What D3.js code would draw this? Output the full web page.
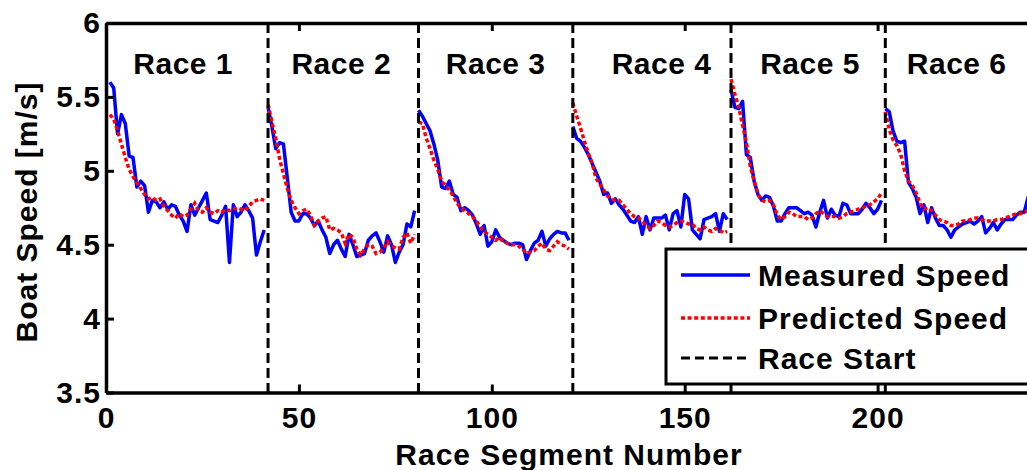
<!DOCTYPE html>
<html>
<head>
<meta charset="utf-8">
<script src="https://cdn.jsdelivr.net/npm/d3@7"></script>
<style>
  html, body { margin: 0; padding: 0; background: #fff; }
  svg { display: block; }
  text { font-family: "Liberation Sans", Arial, Helvetica, sans-serif; font-weight: bold; fill: #000; letter-spacing: 1px; }
  text.race { letter-spacing: 0.5px; }
</style>
</head>
<body>
<svg id="chart" width="1027" height="470"></svg>
<script>
// Segment index where each race begins
const raceStarts = [1, 42, 81, 121, 162, 202];
const raceNames = ["Race 1", "Race 2", "Race 3", "Race 4", "Race 5", "Race 6"];
const raceLabelX = [20, 61, 101, 144, 182.5, 220.5];

// Measured boat speed per segment [m/s]
const measured1 = [5.60, 5.56, 5.25, 5.38, 5.32, 5.10, 5.09, 4.89, 4.93, 4.90, 4.72, 4.80, 4.79, 4.75, 4.79, 4.74, 4.77, 4.76, 4.70, 4.66, 4.59, 4.77, 4.70, 4.75, 4.80, 4.85, 4.67, 4.66, 4.65, 4.70, 4.76, 4.38, 4.77, 4.69, 4.72, 4.77, 4.73, 4.68, 4.43, 4.52, 4.60];
const measured2 = [5.43, 5.30, 5.15, 5.19, 5.18, 4.95, 4.72, 4.66, 4.66, 4.71, 4.71, 4.68, 4.63, 4.66, 4.60, 4.55, 4.44, 4.50, 4.53, 4.47, 4.42, 4.57, 4.50, 4.42, 4.43, 4.44, 4.53, 4.56, 4.58, 4.52, 4.45, 4.56, 4.50, 4.38, 4.45, 4.50, 4.64, 4.62, 4.73];
const measured3 = [5.41, 5.37, 5.32, 5.27, 5.18, 5.07, 4.89, 4.88, 4.93, 4.84, 4.82, 4.73, 4.75, 4.73, 4.70, 4.64, 4.57, 4.63, 4.49, 4.52, 4.60, 4.55, 4.53, 4.51, 4.50, 4.51, 4.51, 4.50, 4.40, 4.46, 4.51, 4.53, 4.59, 4.49, 4.54, 4.57, 4.59, 4.58, 4.58, 4.53];
const measured4 = [5.30, 5.22, 5.20, 5.16, 5.11, 5.05, 4.99, 4.93, 4.84, 4.85, 4.78, 4.81, 4.77, 4.74, 4.70, 4.66, 4.65, 4.69, 4.57, 4.69, 4.60, 4.68, 4.68, 4.68, 4.70, 4.60, 4.71, 4.73, 4.62, 4.84, 4.81, 4.60, 4.57, 4.54, 4.67, 4.68, 4.69, 4.71, 4.59, 4.71, 4.67];
const measured5 = [5.55, 5.43, 5.42, 5.47, 5.11, 5.09, 4.93, 4.84, 4.80, 4.83, 4.82, 4.76, 4.66, 4.66, 4.71, 4.75, 4.75, 4.75, 4.73, 4.71, 4.72, 4.70, 4.62, 4.72, 4.80, 4.68, 4.74, 4.70, 4.69, 4.78, 4.77, 4.71, 4.71, 4.71, 4.74, 4.78, 4.75, 4.71, 4.74, 4.80];
const measured6 = [5.42, 5.40, 5.27, 5.20, 5.19, 5.20, 4.92, 4.88, 4.82, 4.71, 4.77, 4.65, 4.75, 4.68, 4.63, 4.63, 4.60, 4.55, 4.60, 4.62, 4.64, 4.65, 4.66, 4.64, 4.66, 4.69, 4.58, 4.61, 4.65, 4.60, 4.64, 4.67, 4.67, 4.67, 4.70, 4.72, 4.72, 4.82, 4.85];

// Model-predicted boat speed per segment [m/s]
const predicted1 = [5.38, 5.35, 5.27, 5.18, 5.09, 5.01, 4.96, 4.92, 4.88, 4.84, 4.81, 4.82, 4.80, 4.81, 4.76, 4.73, 4.70, 4.68, 4.71, 4.69, 4.70, 4.74, 4.78, 4.73, 4.72, 4.75, 4.72, 4.71, 4.73, 4.72, 4.74, 4.73, 4.74, 4.75, 4.74, 4.73, 4.76, 4.79, 4.80, 4.81, 4.80];
const predicted2 = [5.45, 5.33, 5.22, 5.08, 4.98, 4.88, 4.80, 4.75, 4.71, 4.73, 4.74, 4.70, 4.63, 4.66, 4.68, 4.69, 4.60, 4.61, 4.60, 4.58, 4.51, 4.57, 4.55, 4.47, 4.43, 4.47, 4.50, 4.49, 4.44, 4.45, 4.48, 4.52, 4.49, 4.48, 4.47, 4.55, 4.58, 4.51, 4.57];
const predicted3 = [5.33, 5.32, 5.22, 5.15, 5.07, 5.01, 4.93, 4.90, 4.87, 4.83, 4.78, 4.75, 4.73, 4.71, 4.69, 4.66, 4.62, 4.59, 4.57, 4.55, 4.53, 4.55, 4.52, 4.51, 4.50, 4.50, 4.49, 4.47, 4.44, 4.45, 4.46, 4.49, 4.51, 4.47, 4.46, 4.49, 4.52, 4.50, 4.49, 4.47];
const predicted4 = [5.46, 5.37, 5.29, 5.20, 5.12, 5.05, 4.95, 4.91, 4.87, 4.83, 4.81, 4.80, 4.80, 4.77, 4.74, 4.71, 4.69, 4.68, 4.66, 4.63, 4.61, 4.63, 4.66, 4.65, 4.63, 4.62, 4.63, 4.65, 4.66, 4.65, 4.64, 4.64, 4.61, 4.60, 4.62, 4.60, 4.59, 4.61, 4.60, 4.58, 4.59];
const predicted5 = [5.62, 5.52, 5.43, 5.31, 5.19, 5.03, 4.93, 4.84, 4.80, 4.79, 4.80, 4.77, 4.70, 4.67, 4.69, 4.72, 4.71, 4.69, 4.69, 4.69, 4.67, 4.68, 4.71, 4.73, 4.71, 4.69, 4.69, 4.69, 4.68, 4.69, 4.71, 4.72, 4.73, 4.74, 4.75, 4.76, 4.77, 4.79, 4.81, 4.85];
const predicted6 = [5.40, 5.28, 5.21, 5.17, 5.11, 5.00, 4.93, 4.90, 4.85, 4.78, 4.74, 4.75, 4.73, 4.70, 4.67, 4.66, 4.65, 4.63, 4.63, 4.64, 4.66, 4.66, 4.67, 4.68, 4.68, 4.67, 4.66, 4.66, 4.66, 4.67, 4.67, 4.68, 4.69, 4.70, 4.71, 4.71, 4.72, 4.73, 4.74];

const xTicks = [0, 50, 100, 150, 200];
const yTicks = [3.5, 4, 4.5, 5, 5.5, 6];
const legendLabels = ["Measured Speed", "Predicted Speed", "Race Start"];

const measuredRaces = [measured1, measured2, measured3, measured4, measured5, measured6];
const predictedRaces = [predicted1, predicted2, predicted3, predicted4, predicted5, predicted6];

const svg = d3.select("#chart");
const plotLeft = 106, plotTop = 23, plotBottom = 392.5;
const x = d3.scaleLinear().domain([0, 242]).range([plotLeft, plotLeft + 242 * 3.858]);
const y = d3.scaleLinear().domain([3.5, 6]).range([plotBottom, plotTop]);
const plotRight = x.range()[1];

const toPoints = (vals, start) => vals.map((v, i) => [start + i, v]);
const line = d3.line().x(d => x(d[0])).y(d => y(d[1]));

const plot = svg.append("g");

// Measured speed, one segment per race
plot.selectAll("path.measured")
  .data(measuredRaces.map((v, i) => toPoints(v, raceStarts[i])))
  .join("path")
  .attr("class", "measured")
  .attr("d", line)
  .attr("fill", "none")
  .attr("stroke", "#0000ff")
  .attr("stroke-width", 3.5)
  .attr("stroke-linejoin", "round");

// Predicted speed
plot.selectAll("path.predicted")
  .data(predictedRaces.map((v, i) => toPoints(v, raceStarts[i])))
  .join("path")
  .attr("class", "predicted")
  .attr("d", line)
  .attr("fill", "none")
  .attr("stroke", "#ff0000")
  .attr("stroke-width", 3.5)
  .attr("stroke-dasharray", "4,2.6");

// Race start markers
plot.selectAll("line.start")
  .data(raceStarts.slice(1))
  .join("line")
  .attr("class", "start")
  .attr("x1", d => x(d)).attr("x2", d => x(d))
  .attr("y1", plotTop).attr("y2", plotBottom)
  .attr("stroke", "#000")
  .attr("stroke-width", 3)
  .attr("stroke-dasharray", "10,5");

// Race names
svg.selectAll("text.race")
  .data(raceNames)
  .join("text")
  .attr("class", "race")
  .attr("x", (d, i) => x(raceLabelX[i]))
  .attr("y", 74)
  .attr("text-anchor", "middle")
  .attr("font-size", 30)
  .text(d => d);

// Axes with inward ticks on all four sides
const axisStyle = g => {
  g.select(".domain").attr("stroke-width", 3.5).attr("stroke", "#000");
  g.selectAll(".tick line").attr("stroke-width", 3).attr("stroke", "#000");
  g.selectAll(".tick text").attr("font-size", 30).attr("fill", "#000");
  g.attr("font-family", null).attr("font-size", null);
};

svg.append("g")
  .attr("transform", `translate(0,${plotBottom})`)
  .call(d3.axisBottom(x).tickValues(xTicks).tickSize(-8).tickSizeOuter(0).tickPadding(14))
  .call(axisStyle);

svg.append("g")
  .attr("transform", `translate(0,${plotTop})`)
  .call(d3.axisTop(x).tickValues(xTicks).tickSize(-8).tickSizeOuter(0).tickFormat(""))
  .call(axisStyle);

svg.append("g")
  .attr("transform", `translate(${plotLeft},0)`)
  .call(d3.axisLeft(y).tickValues(yTicks).tickSize(-8).tickSizeOuter(0).tickPadding(5).tickFormat(d3.format("")))
  .call(axisStyle);

svg.append("g")
  .attr("transform", `translate(${plotRight},0)`)
  .call(d3.axisRight(y).tickValues(yTicks).tickSize(-8).tickSizeOuter(0).tickFormat(""))
  .call(axisStyle);

// Axis titles
svg.append("text")
  .attr("x", 569)
  .attr("y", 465)
  .attr("text-anchor", "middle")
  .attr("font-size", 30)
  .text("Race Segment Number");

svg.append("text")
  .attr("transform", "translate(37,212) rotate(-90)")
  .attr("text-anchor", "middle")
  .attr("font-size", 30)
  .text("Boat Speed [m/s]");

// Legend
const legend = svg.append("g");
legend.append("rect")
  .attr("x", 666).attr("y", 249)
  .attr("width", 400).attr("height", 135)
  .attr("fill", "#fff")
  .attr("stroke", "#000")
  .attr("stroke-width", 3);

const legendStyles = [
  { stroke: "#0000ff", dash: null },
  { stroke: "#ff0000", dash: "4,2.6" },
  { stroke: "#000", dash: "9,5" }
];
const legendRows = [275, 318, 358];

legend.selectAll("line.key")
  .data(legendLabels)
  .join("line")
  .attr("class", "key")
  .attr("x1", 681).attr("x2", 750)
  .attr("y1", (d, i) => legendRows[i]).attr("y2", (d, i) => legendRows[i])
  .attr("stroke", (d, i) => legendStyles[i].stroke)
  .attr("stroke-width", (d, i) => i === 2 ? 3 : 3.5)
  .attr("stroke-dasharray", (d, i) => legendStyles[i].dash);

legend.selectAll("text.key")
  .data(legendLabels)
  .join("text")
  .attr("class", "key")
  .attr("x", 758)
  .attr("y", (d, i) => legendRows[i] + 11)
  .attr("font-size", 30)
  .text(d => d);
</script>
</body>
</html>
